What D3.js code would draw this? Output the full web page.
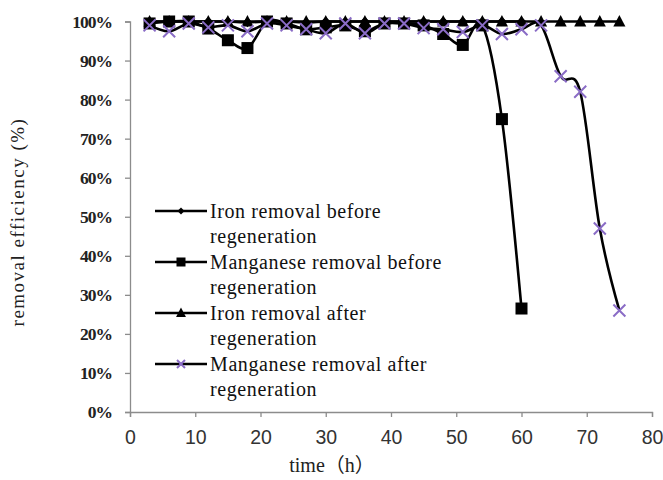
<!DOCTYPE html>
<html>
<head>
<meta charset="utf-8">
<script src="https://cdn.jsdelivr.net/npm/d3@7"></script>
<style>
  html, body { margin: 0; padding: 0; background: #fff; }
  svg { display: block; }
</style>
</head>
<body>
<svg id="chart" width="663" height="480"></svg>
<script>
// ---- data ----
const xTicks = [0, 10, 20, 30, 40, 50, 60, 70, 80];
const yTicks = [0, 0.1, 0.2, 0.3, 0.4, 0.5, 0.6, 0.7, 0.8, 0.9, 1.0];

const ironBeforeT = [3, 6, 9, 12, 15, 18, 21, 24, 27, 30, 33, 36, 39, 42, 45, 48, 51, 54, 57, 60];
const ironBeforeV = [100, 100, 100, 100, 100, 99.8, 100, 100, 99.8, 100, 100, 100, 100, 100, 100, 100, 100, 100, 100, 100];

const mnBeforeT = [3, 6, 9, 12, 15, 18, 21, 24, 27, 30, 33, 36, 39, 42, 45, 48, 51, 54, 57, 60];
const mnBeforeV = [99.5, 100, 100, 98.2, 95.2, 93.2, 100, 99.5, 98, 98.5, 99, 97.5, 99.5, 99.5, 99, 96.8, 94, 99, 75, 26.5];

const ironAfterT = [3, 6, 9, 12, 15, 18, 21, 24, 27, 30, 33, 36, 39, 42, 45, 48, 51, 54, 57, 60, 63, 66, 69, 72, 75];
const ironAfterV = [100, 100, 100, 100, 100, 100, 100, 100, 100, 100, 100, 100, 100, 100, 100, 100, 100, 100, 100, 100, 100, 100, 100, 100, 100];

const mnAfterT = [3, 6, 9, 12, 15, 18, 21, 24, 27, 30, 33, 36, 39, 42, 45, 48, 51, 54, 57, 60, 63, 66, 69, 72, 75];
const mnAfterV = [99, 97.5, 99.5, 98.5, 99, 97.5, 99.5, 99, 98, 97, 99.5, 97, 99.5, 99.5, 98.3, 98, 97.3, 99, 96.8, 98, 99, 86, 82, 47, 26];

const seriesNames = [
  ["Iron removal before", "regeneration"],
  ["Manganese removal before", "regeneration"],
  ["Iron removal after", "regeneration"],
  ["Manganese removal after", "regeneration"]
];
const xTitle = "time（h）";
const yTitle = "removal efficiency (%)";

// ---- layout ----
const svg = d3.select("#chart");
const plot = { left: 130, right: 652, top: 21.5, bottom: 412 };
const x = d3.scaleLinear().domain([0, 80]).range([plot.left, plot.right]);
const y = d3.scaleLinear().domain([0, 1]).range([plot.bottom, plot.top]);
const axisColor = "#8c8c8c";
const purple = "#8a6cc6";

// axes
const gx = svg.append("g").attr("transform", `translate(0,${plot.bottom})`)
  .call(d3.axisBottom(x).tickValues(xTicks).tickSize(5).tickPadding(13));
gx.select(".domain").attr("stroke", axisColor).attr("stroke-width", 1.3);
gx.selectAll(".tick line").attr("stroke", axisColor).attr("stroke-width", 1.3);
gx.selectAll(".tick text")
  .attr("font-family", "'Liberation Sans', Arial, sans-serif")
  .attr("font-size", 19.5).attr("fill", "#333").attr("dy", "0.71em");

const gy = svg.append("g").attr("transform", `translate(${plot.left},0)`)
  .call(d3.axisLeft(y).tickValues(yTicks).tickFormat(d3.format(".0%")).tickSize(5).tickPadding(13));
gy.select(".domain").attr("stroke", axisColor).attr("stroke-width", 1.3);
gy.selectAll(".tick line").attr("stroke", axisColor).attr("stroke-width", 1.3);
gy.selectAll(".tick text")
  .attr("font-family", "'Liberation Serif', 'Times New Roman', serif")
  .attr("font-size", 17.5).attr("font-weight", "bold").attr("fill", "#222")
  .attr("letter-spacing", -1);

// titles
svg.append("text")
  .attr("x", 332).attr("y", 472)
  .attr("text-anchor", "middle")
  .attr("font-family", "'Liberation Serif', 'Noto Sans CJK SC', serif")
  .attr("font-size", 20).attr("fill", "#222")
  .text(xTitle);

svg.append("text")
  .attr("transform", "translate(24,222) rotate(-90)")
  .attr("text-anchor", "middle")
  .attr("font-family", "'Liberation Serif', 'Times New Roman', serif")
  .attr("font-size", 19).attr("letter-spacing", 1.5).attr("fill", "#222")
  .text(yTitle);

// ---- series ----
const line = d3.line()
  .x(d => x(d[0])).y(d => y(d[1] / 100))
  .curve(d3.curveCardinal.tension(0));

function zip(t, v) { return t.map((tt, i) => [tt, v[i]]); }
const data = [
  zip(ironBeforeT, ironBeforeV),
  zip(mnBeforeT, mnBeforeV),
  zip(ironAfterT, ironAfterV),
  zip(mnAfterT, mnAfterV)
];

const markers = [
  (g, s) => g.append("path").attr("d", d3.symbol(d3.symbolDiamond2, s * s * 0.5)()).attr("fill", "#000"),
  (g, s) => g.append("rect").attr("x", -s / 2).attr("y", -s / 2).attr("width", s).attr("height", s).attr("fill", "#000"),
  (g, s) => g.append("path").attr("d", `M0,${-s * 0.6}L${s * 0.55},${s * 0.45}L${-s * 0.55},${s * 0.45}Z`).attr("fill", "#000"),
  (g, s) => g.append("path").attr("d", `M${-s / 2},${-s / 2}L${s / 2},${s / 2}M${-s / 2},${s / 2}L${s / 2},${-s / 2}`)
              .attr("stroke", purple).attr("stroke-width", 2).attr("fill", "none")
];
const markerSizes = [11, 12, 11, 12];

data.forEach((ser, i) => {
  const g = svg.append("g");
  g.append("path").datum(ser).attr("d", line)
    .attr("fill", "none").attr("stroke", "#000").attr("stroke-width", 2.6);
  g.selectAll("g.m").data(ser).enter().append("g")
    .attr("class", "m")
    .attr("transform", d => `translate(${x(d[0])},${y(d[1] / 100)})`)
    .each(function () { markers[i](d3.select(this), markerSizes[i]); });
});

// ---- legend ----
const legendY = [211, 262, 313, 364];
const legendMarkerSizes = [8, 9, 9, 8];
seriesNames.forEach((names, i) => {
  const g = svg.append("g").attr("transform", `translate(0,${legendY[i]})`);
  g.append("line").attr("x1", 155).attr("x2", 207).attr("y1", 0).attr("y2", 0)
    .attr("stroke", "#000").attr("stroke-width", 2.6);
  const mg = g.append("g").attr("transform", "translate(181,0)");
  markers[i](mg, legendMarkerSizes[i]);
  names.forEach((nm, j) => {
    g.append("text")
      .attr("x", 210).attr("y", j * 25 + 7)
      .attr("font-family", "'Liberation Serif', 'Times New Roman', serif")
      .attr("font-size", 20).attr("letter-spacing", 0.6).attr("fill", "#111")
      .text(nm);
  });
});
</script>
</body>
</html>
